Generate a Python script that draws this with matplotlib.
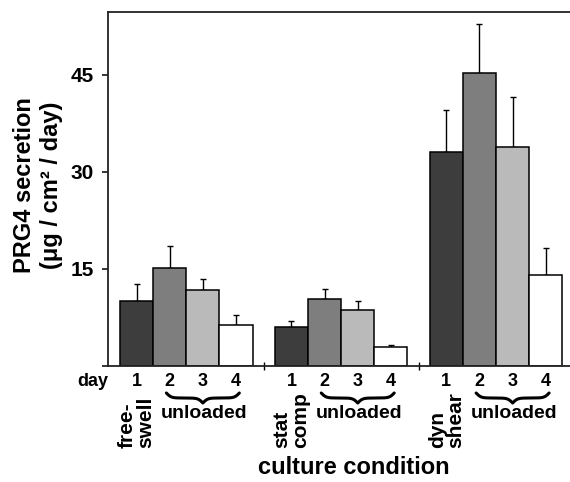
import numpy as np
import matplotlib
matplotlib.use("Agg")
import matplotlib.pyplot as plt
from matplotlib.transforms import blended_transform_factory

plt.rcParams['font.family'] = ['Liberation Sans', 'DejaVu Sans']
plt.rcParams['font.weight'] = 'bold'

# data (ug / cm2 / day)
groups = ["free-\nswell", "stat\ncomp", "dyn\nshear"]
days = ["1", "2", "3", "4"]
means = [
    [10.1, 15.1, 11.7, 6.4],
    [6.1, 10.4, 8.6, 2.9],
    [33.1, 45.3, 33.8, 14.0],
]
errs = [
    [2.5, 3.5, 1.8, 1.5],
    [0.8, 1.5, 1.4, 0.3],
    [6.5, 7.5, 7.7, 4.2],
]
bar_colors = ["#3d3d3d", "#7e7e7e", "#bababa", "#ffffff"]

W, H = 570, 482
fig = plt.figure(figsize=(W / 100, H / 100), dpi=100)
ax = fig.add_axes([108 / W, 1 - 366 / H, 1 - 108 / W, (366 - 12) / H])

period = 4.67  # group spacing in bar widths
for g in range(len(groups)):
    xs = g * period + np.arange(4)
    ax.bar(xs, means[g], width=1.0, color=bar_colors, edgecolor="black",
           linewidth=1.1, zorder=2)
    ax.errorbar(xs, means[g], yerr=[np.zeros(4), errs[g]], fmt="none",
                ecolor="black", elinewidth=1.0, capsize=2.2, capthick=1.0,
                zorder=1)

ax.set_xlim(-0.86, 13.07)
ax.set_ylim(0, 54.7)
ax.set_yticks([0, 15, 30, 45])
ax.set_yticklabels(["", "15", "30", "45"], fontsize=15, fontweight="bold")
ax.tick_params(axis="y", direction="out", length=4, width=1.1, pad=6)
ax.set_xticks([period - (period - 4) / 2 - 0.5, 2 * period - (period - 4) / 2 - 0.5])
ax.set_xticklabels([])
ax.tick_params(axis="x", direction="inout", length=6, width=1.0)
ax.spines["right"].set_visible(False)
for s in ("left", "bottom", "top"):
    ax.spines[s].set_linewidth(1.3)
    ax.spines[s].set_color("#222222")

tr = blended_transform_factory(ax.transData, fig.transFigure)


def fy(py):
    return 1 - py / H


def brace(x0, x1, ytop, height):
    n = 201
    x = np.linspace(x0, x1, n)
    half = x[: n // 2 + 1]
    beta = 14.0
    yh = (1 / (1 + np.exp(-beta * (half - half[0])))
          + 1 / (1 + np.exp(-beta * (half - half[-1]))))
    y = np.concatenate([yh, yh[-2::-1]])
    y = (y - y.min()) / (y.max() - y.min())
    ax.plot(x, fy(ytop) - y * height / H, color="black", lw=2.2,
            transform=tr, clip_on=False, solid_capstyle="round")


fig.text(38 / W, fy(185), "PRG4 secretion\n(\u03bcg / cm\u00b2 / day)",
         fontsize=17, fontweight="bold", rotation=90, ha="center",
         va="center", multialignment="center", linespacing=1.2)

fig.text(93 / W, fy(381), "day", fontsize=13, fontweight="bold",
         ha="center", va="center")
for g, name in enumerate(groups):
    xs = g * period + np.arange(4)
    for x, d in zip(xs, days):
        ax.text(x, fy(381), d, fontsize=13, fontweight="bold",
                ha="center", va="center", transform=tr)
    brace(xs[1] - 0.1, xs[3] + 0.1, 393, 10)
    ax.text(xs[2] + 0.05, fy(414), "unloaded", fontsize=14, fontweight="bold",
            ha="center", va="center", transform=tr)
    ax.text(xs[0], fy(448), name, fontsize=15, fontweight="bold",
            rotation=90, ha="center", va="bottom", multialignment="left",
            linespacing=0.95, transform=tr)

fig.text(354 / W, fy(467), "culture condition", fontsize=17,
         fontweight="bold", ha="center", va="center")

fig.savefig("out.png", dpi=100)
